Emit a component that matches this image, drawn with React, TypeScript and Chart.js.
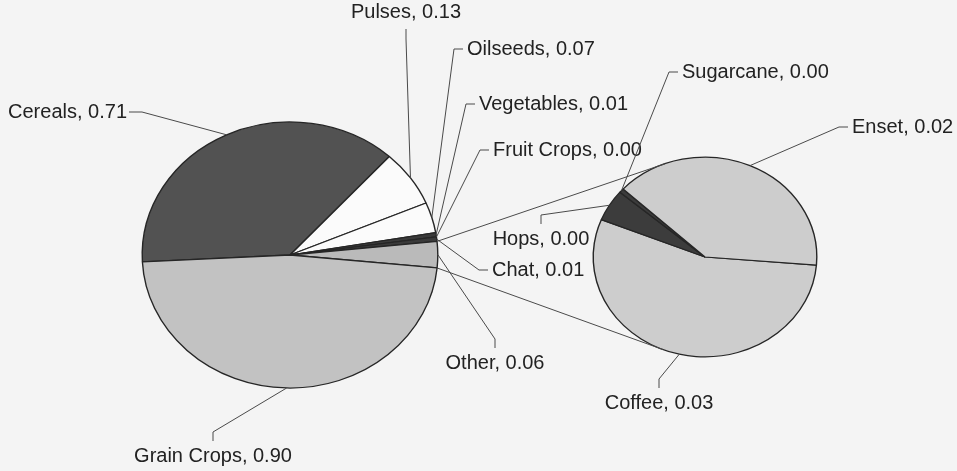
import React, { useEffect, useRef } from "react";
import { Chart, registerables } from "chart.js";

Chart.register(...registerables);

// ---- data ----
const secondLabels = ["Coffee", "Hops", "Sugarcane", "Enset"];
const secondValues = [0.033, 0.0031, 0.0004, 0.0237];
const otherValue = secondValues.reduce((a, b) => a + b, 0);

const mainLabels = ["Cereals", "Pulses", "Oilseeds", "Vegetables", "Fruit Crops", "Chat", "Other", "Grain Crops"];
const mainValues = [0.71, 0.13, 0.07, 0.01, 0.0, 0.01, otherValue, 0.9];

// ---- styles / layout ----
const mainColors = ["#525252", "#fbfbfb", "#fbfbfb", "#3a3a3a", "#3a3a3a", "#3a3a3a", "#bababa", "#c2c2c2"];
const secondColors = ["#cdcdcd", "#3c3c3c", "#3c3c3c", "#cdcdcd"];

type Side = "left" | "right" | "top" | "bottom";
const mainLabelPos: { x: number; y: number; side: Side }[] = [
  { x: 127, y: 112, side: "right" },
  { x: 406, y: 12, side: "bottom" },
  { x: 467, y: 49, side: "left" },
  { x: 479, y: 104, side: "left" },
  { x: 493, y: 150, side: "left" },
  { x: 492, y: 270, side: "left" },
  { x: 495, y: 363, side: "top" },
  { x: 213, y: 456, side: "top" },
];
const secondLabelPos: { x: number; y: number; side: Side }[] = [
  { x: 659, y: 403, side: "top" },
  { x: 541, y: 239, side: "top" },
  { x: 682, y: 72, side: "left" },
  { x: 852, y: 127, side: "left" },
];

const FONT = '20px "Liberation Sans", Arial, sans-serif';
const TEXT_COLOR = "#222222";
const LINE_COLOR = "#4a4a4a";
const BORDER_COLOR = "#262626";
const MAIN_SY = 0.9;
const SECOND_SY = 0.893;

function edgePoint(arc: any, angle: number, sy: number) {
  const r = arc.outerRadius;
  return { x: arc.x + r * Math.cos(angle), y: arc.y + r * sy * Math.sin(angle) };
}

function ellipsePlugin(sy: number) {
  return {
    id: "ellipse",
    beforeDatasetsDraw(chart: any) {
      const a = chart.getDatasetMeta(0).data[0];
      const c = chart.ctx;
      c.save();
      c.translate(a.x, a.y);
      c.scale(1, sy);
      c.translate(-a.x, -a.y);
    },
    afterDatasetsDraw(chart: any) {
      chart.ctx.restore();
    },
  };
}

function drawLabel(ctx: CanvasRenderingContext2D, text: string, pos: { x: number; y: number; side: Side }, anchor: { x: number; y: number }) {
  ctx.save();
  ctx.font = FONT;
  ctx.fillStyle = TEXT_COLOR;
  ctx.textBaseline = "middle";
  let t0: { x: number; y: number };
  let t1: { x: number; y: number };
  if (pos.side === "left") {
    ctx.textAlign = "left";
    t0 = { x: pos.x - 4, y: pos.y };
    t1 = { x: pos.x - 13, y: pos.y };
  } else if (pos.side === "right") {
    ctx.textAlign = "right";
    t0 = { x: pos.x + 2, y: pos.y };
    t1 = { x: pos.x + 15, y: pos.y };
  } else if (pos.side === "top") {
    ctx.textAlign = "center";
    t0 = { x: pos.x, y: pos.y - 15 };
    t1 = { x: pos.x, y: pos.y - 24 };
  } else {
    ctx.textAlign = "center";
    t0 = { x: pos.x, y: pos.y + 17 };
    t1 = { x: pos.x, y: pos.y + 27 };
  }
  ctx.fillText(text, pos.x, pos.y);
  ctx.strokeStyle = LINE_COLOR;
  ctx.lineWidth = 1;
  ctx.beginPath();
  ctx.moveTo(t0.x, t0.y);
  ctx.lineTo(t1.x, t1.y);
  ctx.lineTo(anchor.x, anchor.y);
  ctx.stroke();
  ctx.restore();
}

function tangentPoint(p: { x: number; y: number }, arc: any, sy: number, t0: number, t1: number) {
  const rx = arc.outerRadius;
  const ry = arc.outerRadius * sy;
  const steps = 2000;
  let prev = 0;
  let best = { x: arc.x, y: arc.y };
  for (let i = 0; i <= steps; i++) {
    const t = t0 + ((t1 - t0) * i) / steps;
    const qx = arc.x + rx * Math.cos(t);
    const qy = arc.y + ry * Math.sin(t);
    const dx = -rx * Math.sin(t);
    const dy = ry * Math.cos(t);
    const cr = (qx - p.x) * dy - (qy - p.y) * dx;
    if (i > 0 && Math.sign(cr) !== Math.sign(prev)) {
      best = { x: qx, y: qy };
      break;
    }
    prev = cr;
  }
  return best;
}

export default function App() {
  const ref1 = useRef<HTMLCanvasElement>(null);
  const ref2 = useRef<HTMLCanvasElement>(null);

  useEffect(() => {
    const bgPlugin = {
      id: "bg",
      beforeDraw(chart: any) {
        const c = chart.ctx;
        c.save();
        c.fillStyle = "#f4f4f4";
        c.fillRect(0, 0, chart.width, chart.height);
        c.restore();
      },
    };

    const mainLabelPlugin = {
      id: "mainLabels",
      afterDraw(chart: any) {
        const meta = chart.getDatasetMeta(0);
        meta.data.forEach((arc: any, i: number) => {
          const mid = (arc.startAngle + arc.endAngle) / 2;
          const a = edgePoint(arc, mid, MAIN_SY);
          drawLabel(chart.ctx, `${mainLabels[i]}, ${mainValues[i].toFixed(2)}`, mainLabelPos[i], a);
        });
      },
    };

    const main = new Chart(ref1.current as HTMLCanvasElement, {
      type: "pie",
      data: {
        labels: mainLabels,
        datasets: [
          {
            data: mainValues,
            backgroundColor: mainColors,
            borderColor: BORDER_COLOR,
            borderWidth: 1.4,
          },
        ],
      },
      options: {
        responsive: false,
        animation: false,
        events: [],
        rotation: 267,
        layout: { padding: { left: 141.5, right: 518.5, top: 106.5, bottom: 67.5 } },
        plugins: { legend: { display: false }, tooltip: { enabled: false } },
      },
      plugins: [bgPlugin, ellipsePlugin(MAIN_SY), mainLabelPlugin],
    } as any);

    const secondLabelPlugin = {
      id: "secondLabels",
      afterDraw(chart: any) {
        const ctx = chart.ctx;
        const meta = chart.getDatasetMeta(0);
        meta.data.forEach((arc: any, i: number) => {
          const mid = (arc.startAngle + arc.endAngle) / 2;
          const a = edgePoint(arc, mid, SECOND_SY);
          drawLabel(ctx, `${secondLabels[i]}, ${secondValues[i].toFixed(2)}`, secondLabelPos[i], a);
        });
        // connector lines from the "Other" slice to the secondary pie
        const other = main.getDatasetMeta(0).data[6] as any;
        const sArc = meta.data[0] as any;
        const p1 = edgePoint(other, other.startAngle, MAIN_SY);
        const p2 = edgePoint(other, other.endAngle, MAIN_SY);
        const q1 = tangentPoint(p1, sArc, SECOND_SY, Math.PI, Math.PI * 1.75);
        const q2 = tangentPoint(p2, sArc, SECOND_SY, Math.PI * 0.25, Math.PI);
        ctx.save();
        ctx.strokeStyle = LINE_COLOR;
        ctx.lineWidth = 1;
        ctx.beginPath();
        ctx.moveTo(p1.x, p1.y);
        ctx.lineTo(q1.x, q1.y);
        ctx.moveTo(p2.x, p2.y);
        ctx.lineTo(q2.x, q2.y);
        ctx.stroke();
        ctx.restore();
      },
    };

    const second = new Chart(ref2.current as HTMLCanvasElement, {
      type: "pie",
      data: {
        labels: secondLabels,
        datasets: [
          {
            data: secondValues,
            backgroundColor: secondColors,
            borderColor: BORDER_COLOR,
            borderWidth: 1.4,
          },
        ],
      },
      options: {
        responsive: false,
        animation: false,
        events: [],
        rotation: 94.6,
        layout: { padding: { left: 592.5, right: 139.5, top: 144.5, bottom: 101.5 } },
        plugins: { legend: { display: false }, tooltip: { enabled: false } },
      },
      plugins: [ellipsePlugin(SECOND_SY), secondLabelPlugin],
    } as any);

    return () => {
      second.destroy();
      main.destroy();
    };
  }, []);

  return (
    <div style={{ position: "fixed", left: 0, top: 0, width: 957, height: 471, background: "#f4f4f4" }}>
      <canvas ref={ref1} width={957} height={471} style={{ position: "absolute", left: 0, top: 0 }} />
      <canvas ref={ref2} width={957} height={471} style={{ position: "absolute", left: 0, top: 0 }} />
    </div>
  );
}
